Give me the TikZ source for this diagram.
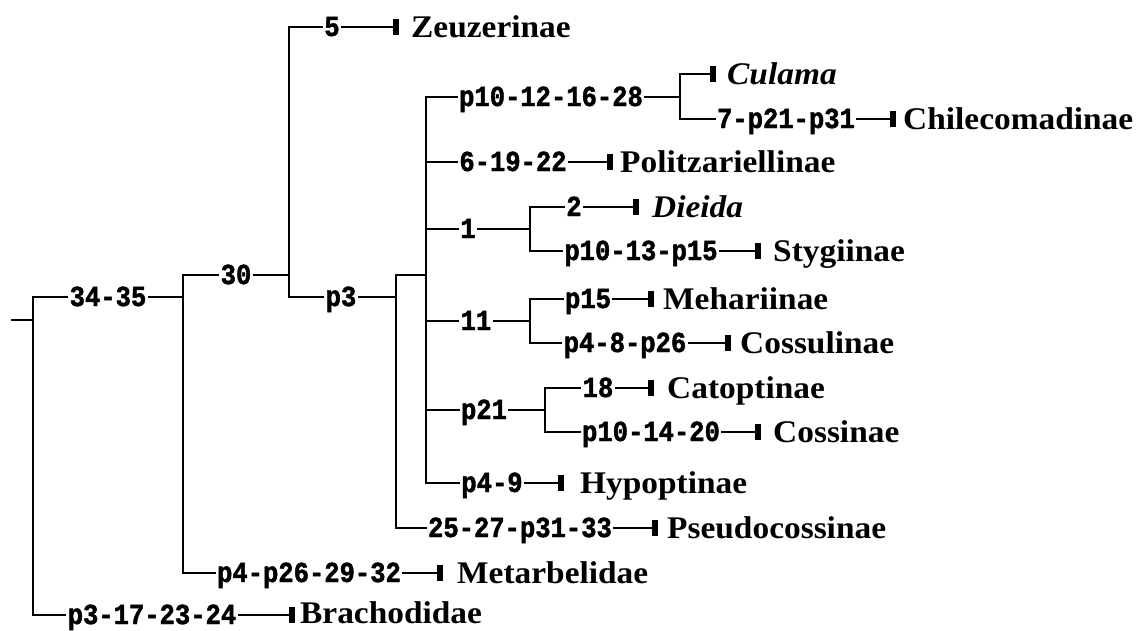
\documentclass[tikz,border=0pt]{standalone}
\usepackage{fontspec}
\newfontfamily\chrfont{Liberation Mono}[FakeStretch=0.88,FakeBold=1.6]
\newfontfamily\taxfont{Liberation Serif}[FakeStretch=1.06]
\tikzset{
  branch/.style={line width=2.2pt, line join=miter},
  chr/.style={fill=white, inner xsep=1.5pt, inner ysep=0pt, anchor=base,
    font=\chrfont\bfseries\fontsize{29}{29}\selectfont},
  tax/.style={anchor=base west, inner sep=0pt,
    font=\taxfont\bfseries\fontsize{31.5}{31.5}\selectfont},
  taxit/.style={tax, font=\taxfont\bfseries\itshape\fontsize{31.5}{31.5}\selectfont},
  tick/.style={fill=black, minimum width=5.5pt, minimum height=16pt, inner sep=0pt, anchor=west}
}
\begin{document}
\begin{tikzpicture}[x=1pt,y=-1pt]
\useasboundingbox (0,0) rectangle (1139,630);

% internal nodes of the tree
\coordinate (r0) at (11,320);
\coordinate (nA) at (33,320);
\coordinate (nB) at (183,297);
\coordinate (nC) at (289,275);
\coordinate (nD) at (396,297);
\coordinate (nE) at (426,275);
\coordinate (nF) at (680,97);
\coordinate (nG) at (530,229);
\coordinate (nH) at (530,321);
\coordinate (nI) at (545,410);

% terminal ticks
\node[tick] (kZeu) at (393,27) {};
\node[tick] (kCul) at (710,74) {};
\node[tick] (kChi) at (890,119) {};
\node[tick] (kPol) at (607,162) {};
\node[tick] (kDie) at (633,207) {};
\node[tick] (kSty) at (755,251) {};
\node[tick] (kMeh) at (648,299) {};
\node[tick] (kCsl) at (725,343) {};
\node[tick] (kCat) at (648,388) {};
\node[tick] (kCos) at (755,432) {};
\node[tick] (kHyp) at (558,483) {};
\node[tick] (kPse) at (652,528) {};
\node[tick] (kMet) at (437,573) {};
\node[tick] (kBra) at (289,615) {};

% branches
\draw[branch] (r0) -- (nA);
\draw[branch] (nA) |- (nB);
\draw[branch] (nA) |- (kBra.west);
\draw[branch] (nB) |- (nC);
\draw[branch] (nB) |- (kMet.west);
\draw[branch] (nC) |- (kZeu.west);
\draw[branch] (nC) |- (nD);
\draw[branch] (nD) |- (nE);
\draw[branch] (nD) |- (kPse.west);
\draw[branch] (nE) |- (nF);
\draw[branch] (nE) |- (kPol.west);
\draw[branch] (nE) |- (nG);
\draw[branch] (nE) |- (nH);
\draw[branch] (nE) |- (nI);
\draw[branch] (nE) |- (kHyp.west);
\draw[branch] (nF) |- (kCul.west);
\draw[branch] (nF) |- (kChi.west);
\draw[branch] (nG) |- (kDie.west);
\draw[branch] (nG) |- (kSty.west);
\draw[branch] (nH) |- (kMeh.west);
\draw[branch] (nH) |- (kCsl.west);
\draw[branch] (nI) |- (kCat.west);
\draw[branch] (nI) |- (kCos.west);

% character states on the branches
\node[chr] (c1) at (108,306) {34-35};
\node[chr] (c2) at (236,284) {30};
\node[chr] (c3) at (341,306) {p3};
\node[chr] (c4) at (332,36) {5};
\node[chr] (c5) at (551,106) {p10-12-16-28};
\node[chr] (c6) at (786,128) {7-p21-p31};
\node[chr] (c7) at (513,171) {6-19-22};
\node[chr] (c8) at (468,238) {1};
\node[chr] (c9) at (574,216) {2};
\node[chr] (c10) at (641,260) {p10-13-p15};
\node[chr] (c11) at (476,330) {11};
\node[chr] (c12) at (588,308) {p15};
\node[chr] (c13) at (625,352) {p4-8-p26};
\node[chr] (c14) at (484,419) {p21};
\node[chr] (c15) at (598,397) {18};
\node[chr] (c16) at (651,441) {p10-14-20};
\node[chr] (c17) at (492,492) {p4-9};
\node[chr] (c18) at (520,537) {25-27-p31-33};
\node[chr] (c19) at (309,582) {p4-p26-29-32};
\node[chr] (c20) at (152,624) {p3-17-23-24};

% taxa
\node[tax] (tZeu) at (411,37) {Zeuzerinae};
\node[taxit] (tCul) at (727,84) {Culama};
\node[tax] (tChi) at (903,129) {Chilecomadinae};
\node[tax] (tPol) at (620,172) {Politzariellinae};
\node[taxit] (tDie) at (652,217) {Dieida};
\node[tax] (tSty) at (773,261) {Stygiinae};
\node[tax] (tMeh) at (663,309) {Mehariinae};
\node[tax] (tCsl) at (740,353) {Cossulinae};
\node[tax] (tCat) at (667,398) {Catoptinae};
\node[tax] (tCos) at (773,442) {Cossinae};
\node[tax] (tHyp) at (580,493) {Hypoptinae};
\node[tax] (tPse) at (667,538) {Pseudocossinae};
\node[tax] (tMet) at (457,583) {Metarbelidae};
\node[tax] (tBra) at (300,623) {Brachodidae};
\end{tikzpicture}
\end{document}
